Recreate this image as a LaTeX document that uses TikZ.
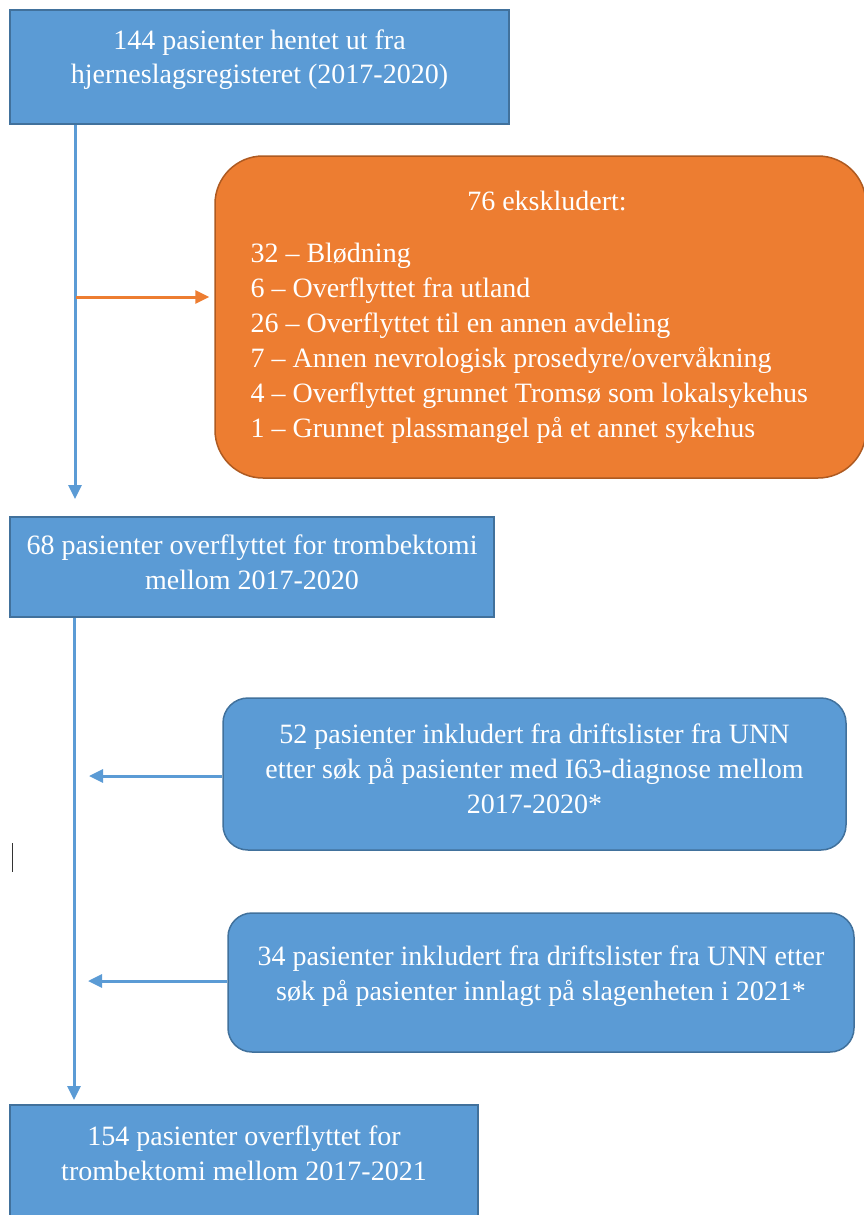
\documentclass[tikz,border=0pt]{standalone}
\usepackage{fontspec}
\setmainfont{Liberation Serif}
\usetikzlibrary{arrows.meta, positioning}

\definecolor{flowblue}{HTML}{5B9BD5}
\definecolor{flowblueline}{HTML}{41719C}
\definecolor{floworange}{HTML}{ED7D31}
\definecolor{floworangeline}{HTML}{AE5A21}

\begin{document}
\begin{tikzpicture}[
    x = 1pt, y = -1pt,
    flowbox/.style = {
      rectangle, draw = flowblueline, fill = flowblue,
      line width = 1.5pt, inner sep = 0pt
    },
    flowtext/.style = {
      text = white, align = center, anchor = base,
      font = \fontsize{28}{35}\selectfont
    },
    flowarrow/.style = {
      draw = flowblue, line width = 3pt,
      -{Triangle[length = 14pt, width = 13pt]}
    }
  ]
      \useasboundingbox (0, 0) rectangle (864, 1215);

      % boxes
      \node [flowbox, minimum width = 499, minimum height = 114]
        (registry) at (259.5, 67) {};
      \node [flowbox, rounded corners = 48, draw = floworangeline,
        fill = floworange, minimum width = 651, minimum height = 322]
        (excluded) at (540.5, 317) {};
      \node [flowbox, minimum width = 484, minimum height = 100]
        (transfer) at (252, 567) {};
      \node [flowbox, rounded corners = 25, minimum width = 623,
        minimum height = 152] (diagnosis) at (534.5, 774) {};
      \node [flowbox, rounded corners = 24, minimum width = 626,
        minimum height = 139] (strokeunit) at (541, 982.5) {};
      \node [flowbox, minimum width = 468, minimum height = 120]
        (total) at (244, 1165) {};

      % texts (anchored on the baseline of their last line)
      \node [flowtext, font = \fontsize{28}{33}\selectfont]
        (registry text) at (259.5, 83)
        {144 pasienter hentet ut fra\\hjerneslagsregisteret (2017-2020)};
      \node [flowtext] (excluded title) at (547, 210) {76 ekskludert:};
      \node [flowtext, align = left, anchor = base west] (excluded list)
        at (247, 437) {32 -- Blødning\\
        6 -- Overflyttet fra utland\\
        26 -- Overflyttet til en annen avdeling\\
        7 -- Annen nevrologisk prosedyre/overvåkning\\
        4 -- Overflyttet grunnet Tromsø som lokalsykehus\\
        1 -- Grunnet plassmangel på et annet sykehus};
      \node [flowtext] (transfer text) at (252, 589)
        {68 pasienter overflyttet for trombektomi\\mellom 2017-2020};
      \node [flowtext] (diagnosis text) at (534.5, 813)
        {52 pasienter inkludert fra driftslister fra UNN\\
        etter søk på pasienter med I63-diagnose mellom\\2017-2020*};
      \node [flowtext] (strokeunit text) at (541, 1000)
        {34 pasienter inkludert fra driftslister fra UNN etter\\
        søk på pasienter innlagt på slagenheten i 2021*};
      \node [flowtext] (total text) at (244, 1180)
        {154 pasienter overflyttet for\\trombektomi mellom 2017-2021};

      % connectors
      \coordinate (split)  at (76, 297);
      \coordinate (spine a) at (75, 499);
      \coordinate (spine b) at (74, 1100);
      \coordinate (join a) at (89, 776);
      \coordinate (join b) at (88, 981);

      \draw [flowarrow] (registry.south -| spine a) -- (spine a);
      \draw [flowarrow, draw = floworange, shorten > = 5pt]
        (split) -- (split -| excluded.west);
      \draw [flowarrow] (transfer.south -| spine b) -- (spine b);
      \draw [flowarrow] (join a -| diagnosis.west) -- (join a);
      \draw [flowarrow] (join b -| strokeunit.west) -- (join b);

      \draw [line width = 1pt, black!80] (12, 843) -- (12, 872);
\end{tikzpicture}
\end{document}
